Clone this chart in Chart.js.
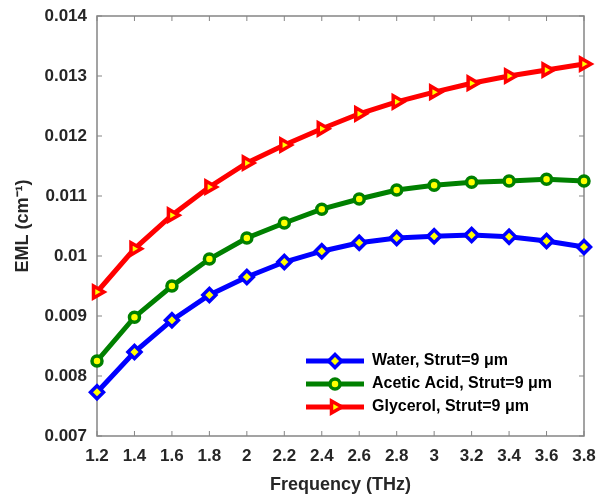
<!DOCTYPE html>
<html>
<head>
<meta charset="utf-8">
<script src="https://cdn.jsdelivr.net/npm/chart.js@4.4.1/dist/chart.umd.min.js"></script>
<style>
  html, body { margin: 0; padding: 0; background: #fff; }
  #chart { display: block; }
</style>
</head>
<body>
<canvas id="chart" width="597" height="499"></canvas>
<script>
// Frequency in THz
const freqs = [1.2, 1.4, 1.6, 1.8, 2, 2.2, 2.4, 2.6, 2.8, 3, 3.2, 3.4, 3.6, 3.8];

// EML (cm^-1) per liquid, strut = 9 um
const water = [0.00773, 0.0084, 0.00893, 0.00935, 0.00965, 0.0099, 0.01008, 0.01022, 0.0103, 0.01033, 0.01035, 0.01032, 0.01025, 0.01015];
const acetic = [0.00825, 0.00898, 0.0095, 0.00995, 0.0103, 0.01055, 0.01078, 0.01095, 0.0111, 0.01118, 0.01123, 0.01125, 0.01128, 0.01125];
const glycerol = [0.0094, 0.01012, 0.01068, 0.01115, 0.01155, 0.01185, 0.01212, 0.01237, 0.01257, 0.01273, 0.01288, 0.013, 0.0131, 0.0132];

const seriesNames = ['Water, Strut=9 μm', 'Acetic Acid, Strut=9 μm', 'Glycerol, Strut=9 μm'];
const yTicks = [0.007, 0.008, 0.009, 0.01, 0.011, 0.012, 0.013, 0.014];

const FONT = '"Liberation Sans", Arial, Helvetica, sans-serif';
const AXIS_GRAY = '#858585';
const YELLOW = '#ffff00';

// Line + marker sample used as the legend symbol
function legendSymbol(color, style, radius, rotation) {
  const c = document.createElement('canvas');
  c.width = 58;
  c.height = 20;
  const g = c.getContext('2d');
  g.strokeStyle = color;
  g.lineWidth = 5;
  g.beginPath();
  g.moveTo(0, 10);
  g.lineTo(58, 10);
  g.stroke();
  g.fillStyle = YELLOW;
  g.lineWidth = 3.5;
  Chart.helpers.drawPoint(g, { pointStyle: style, radius: radius, rotation: rotation, borderWidth: 3.5 }, 29, 10);
  return c;
}

function makeSet(label, data, color, style, radius, rotation) {
  return {
    label: label,
    data: data,
    borderColor: color,
    backgroundColor: color,
    borderWidth: 5,
    pointStyle: style,
    pointRadius: radius,
    pointRotation: rotation,
    pointBackgroundColor: YELLOW,
    pointBorderColor: color,
    pointBorderWidth: 3.5,
    tension: 0,
    clip: false,
    legendImg: legendSymbol(color, style, radius, rotation)
  };
}

// Box around the plot with inward ticks on all four sides
const axisBox = {
  id: 'axisBox',
  beforeDatasetsDraw(chart) {
    const { ctx, chartArea: a, scales: { x, y } } = chart;
    ctx.save();
    ctx.strokeStyle = AXIS_GRAY;
    ctx.lineWidth = 1.5;
    ctx.strokeRect(a.left, a.top, a.right - a.left, a.bottom - a.top);
    ctx.lineWidth = 1;
    ctx.beginPath();
    x.ticks.forEach((t, i) => {
      const px = x.getPixelForTick(i);
      ctx.moveTo(px, a.bottom); ctx.lineTo(px, a.bottom - 5);
      ctx.moveTo(px, a.top); ctx.lineTo(px, a.top + 5);
    });
    y.ticks.forEach((t, i) => {
      const py = y.getPixelForTick(i);
      ctx.moveTo(a.left, py); ctx.lineTo(a.left + 5, py);
      ctx.moveTo(a.right, py); ctx.lineTo(a.right - 5, py);
    });
    ctx.stroke();
    ctx.restore();
  }
};

// Move the legend to the lower right of the plot
const legendPlace = {
  id: 'legendPlace',
  afterLayout(chart) {
    const lg = chart.legend;
    lg.left = 299;
    lg.top = 346;
    lg.right = lg.left + lg.width;
    lg.bottom = lg.top + lg.height;
  }
};

const ctx = document.getElementById('chart').getContext('2d');
new Chart(ctx, {
  type: 'line',
  data: {
    labels: freqs,
    datasets: [
      makeSet(seriesNames[0], water, '#0000ff', 'rectRot', 6.5, 0),
      makeSet(seriesNames[1], acetic, '#008000', 'circle', 5, 0),
      makeSet(seriesNames[2], glycerol, '#ff0000', 'triangle', 7, 90)
    ]
  },
  plugins: [axisBox, legendPlace],
  options: {
    responsive: false,
    animation: false,
    layout: { padding: { left: 0, right: 13, top: 16, bottom: 0 } },
    plugins: {
      title: { display: false },
      tooltip: { enabled: false },
      legend: {
        position: 'chartArea',
        align: 'start',
        labels: {
          usePointStyle: true,
          pointStyleWidth: 58,
          padding: 7,
          color: '#000',
          font: { family: FONT, size: 16, weight: 'bold' },
          generateLabels(chart) {
            return chart.data.datasets.map((ds, i) => ({
              text: ds.label,
              pointStyle: ds.legendImg,
              fillStyle: YELLOW,
              strokeStyle: ds.borderColor,
              lineWidth: 0,
              hidden: false,
              datasetIndex: i,
              fontColor: '#000'
            }));
          }
        }
      }
    },
    scales: {
      x: {
        type: 'category',
        offset: false,
        grid: { display: false, drawTicks: false, offset: false },
        border: { display: false },
        ticks: {
          color: '#262626',
          padding: 10,
          maxRotation: 0,
          autoSkip: false,
          font: { family: FONT, size: 17, weight: 'bold' }
        },
        title: {
          display: true,
          text: 'Frequency (THz)',
          color: '#262626',
          padding: { top: 3, bottom: 3 },
          font: { family: FONT, size: 18, weight: 'bold' }
        },
        afterFit(scale) {
          scale.height = 63;
          scale.paddingLeft = 0;
          scale.paddingRight = 0;
        }
      },
      y: {
        min: 0.007,
        max: 0.014,
        grid: { display: false, drawTicks: false },
        border: { display: false },
        afterBuildTicks(scale) { scale.ticks = yTicks.map(v => ({ value: v })); },
        ticks: {
          color: '#262626',
          padding: 10,
          font: { family: FONT, size: 17, weight: 'bold' },
          callback: v => String(Number(v.toFixed(3)))
        },
        title: {
          display: true,
          text: 'EML (cm⁻¹)',
          color: '#262626',
          padding: { top: 12, bottom: 0 },
          font: { family: FONT, size: 18, weight: 'bold' }
        },
        afterFit(scale) {
          scale.width = 97;
          scale.paddingTop = 0;
          scale.paddingBottom = 0;
        }
      }
    }
  }
});
</script>
</body>
</html>
